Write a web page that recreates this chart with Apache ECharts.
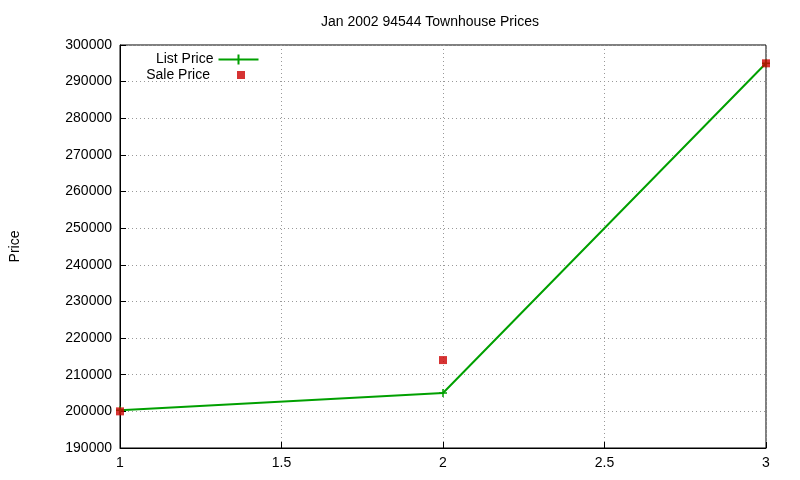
<!DOCTYPE html>
<html><head><meta charset="utf-8">
<script src="https://cdn.jsdelivr.net/npm/echarts@6/dist/echarts.min.js"></script>
<style>html,body{margin:0;padding:0;background:#fff}#c{width:800px;height:480px}</style>
</head><body><div id="c"></div>
<script>
const months = [1, 2, 3];
const listPrice = [200300, 205000, 295000];
const salePrice = [200000, 214000, 295000];
const title = 'Jan 2002 94544 Townhouse Prices';

const chart = echarts.init(document.getElementById('c'));
const font = 'Liberation Sans, Arial, sans-serif';
chart.setOption({
  animation: false,
  backgroundColor: '#fff',
  textStyle: {fontFamily: font},
  title: {text: title, left: 316, top: 10, textStyle: {fontSize: 14, fontWeight: 'normal', color: '#000', fontFamily: font}},
  legend: [{
    orient: 'vertical', right: 534, top: 47, align: 'right', itemWidth: 40, itemHeight: 10,
    textStyle: {fontSize: 14, color: '#000', fontFamily: font},
    data: [{name: 'List Price', icon: 'path://M0,5L40,5M20,0L20,10', itemStyle: {color: 'none', borderColor: '#00a000', borderWidth: 2}}]
  }, {
    orient: 'vertical', right: 550, top: 63, align: 'right', itemWidth: 8, itemHeight: 8,
    textStyle: {fontSize: 14, color: '#000', fontFamily: font, padding: [0, 22, 0, 0]},
    data: [{name: 'Sale Price', icon: 'rect'}]
  }],
  grid: {left: 116, right: 34, top: 45, bottom: 32, show: true, borderColor: '#000', borderWidth: 1},
  xAxis: {
    type: 'value', min: 1, max: 3, interval: 0.5,
    axisLine: {lineStyle: {color: '#000'}}, axisTick: {inside: true, length: 6, lineStyle: {color: '#000'}},
    axisLabel: {fontSize: 14, color: '#000', margin: 8},
    splitLine: {lineStyle: {type: [1, 3], color: '#999'}}
  },
  yAxis: {
    type: 'value', min: 190000, max: 300000, interval: 10000,
    name: 'Price', nameLocation: 'middle', nameGap: 98, nameRotate: 90,
    nameTextStyle: {fontSize: 14, color: '#000'},
    axisLine: {show: true, lineStyle: {color: '#000'}}, axisTick: {inside: true, length: 6, lineStyle: {color: '#000'}},
    axisLabel: {fontSize: 14, color: '#000', margin: 8, formatter: v => String(v)},
    splitLine: {lineStyle: {type: [1, 3], color: '#999'}}
  },
  series: [
    {name: 'List Price', type: 'line', data: months.map((m, i) => [m, listPrice[i]]),
     lineStyle: {color: '#00a000', width: 2}, color: '#00a000',
     symbol: 'path://M0,5L10,5M5,0L5,10', symbolSize: 8,
     itemStyle: {color: 'none', borderColor: '#00a000', borderWidth: 1.5}},
    {name: 'Sale Price', type: 'scatter', data: months.map((m, i) => [m, salePrice[i]]),
     symbol: 'rect', symbolSize: 8, itemStyle: {color: '#cc0000'}, z: 3}
  ]
});
</script></body></html>
